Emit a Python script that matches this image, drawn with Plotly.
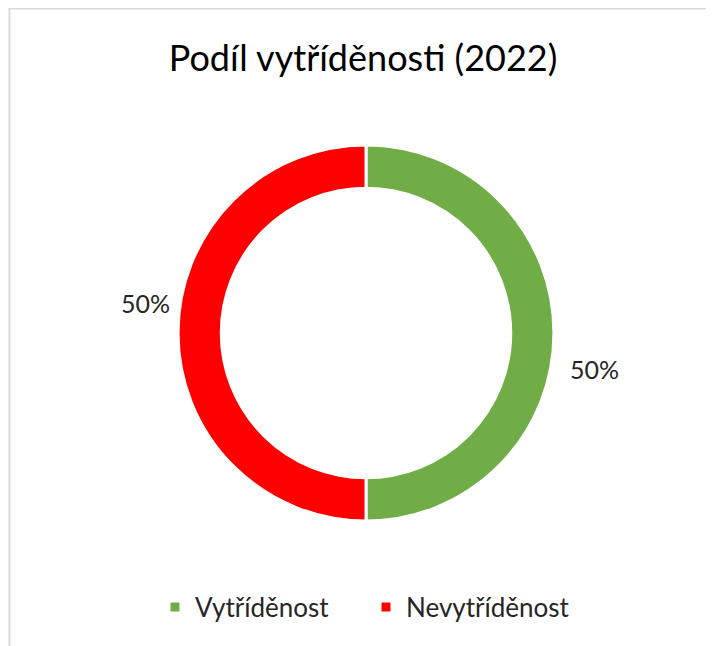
import plotly.graph_objects as go

title_text = "Podíl vytříděnosti (2022)"
categories = ["Vytříděnost", "Nevytříděnost"]
values = [50, 50]
colors = ["#70AD47", "#FF0000"]

W, H = 714, 646
FONT = "Lato"
OFF = 8  # page body margin offset

def px(x):
    return (x - OFF) / W

def py(y):
    return 1 - (y - OFF) / H

total = sum(values)
pct = [f"{v / total * 100:.0f}%" for v in values]

CX, CY, R = 366, 333, 188

fig = go.Figure()
fig.add_trace(go.Pie(
    labels=categories,
    values=values,
    hole=0.77,
    sort=False,
    direction="clockwise",
    rotation=0,
    marker=dict(colors=colors, line=dict(color="white", width=3)),
    textinfo="none",
    hoverinfo="label+percent",
    domain=dict(x=[px(CX - R), px(CX + R)],
                y=[py(CY + R), py(CY - R)]),
))

# percentage labels (Excel-style placement)
fig.add_annotation(x=px(594), y=py(369), xref="paper", yref="paper",
                   xanchor="center", yanchor="middle",
                   text=pct[0], showarrow=False,
                   font=dict(family=FONT, size=25, color="#262626"))
fig.add_annotation(x=px(145), y=py(303), xref="paper", yref="paper",
                   xanchor="center", yanchor="middle",
                   text=pct[1], showarrow=False,
                   font=dict(family=FONT, size=25, color="#262626"))

# chart area border
fig.add_shape(type="rect", xref="paper", yref="paper",
              x0=1.5 / W, x1=1.05, y0=-0.05, y1=1 - 0.5 / H,
              line=dict(color="#D9D9D9", width=2), fillcolor="rgba(0,0,0,0)")

fig.update_layout(
    width=W, height=H,
    margin=dict(l=0, r=0, t=0, b=0),
    paper_bgcolor="white",
    plot_bgcolor="white",
    title=dict(text=title_text, x=px(363), xanchor="center",
               y=py(58), yanchor="middle",
               font=dict(family=FONT, size=36, color="#000000")),
    showlegend=True,
    legend=dict(orientation="h", x=px(155), xanchor="left",
                y=py(607), yanchor="middle",
                font=dict(family=FONT, size=26, color="#262626"),
                entrywidth=166, entrywidthmode="pixels",
                itemwidth=30, traceorder="normal"),
    font=dict(family=FONT),
)

fig.write_html("out.html")
